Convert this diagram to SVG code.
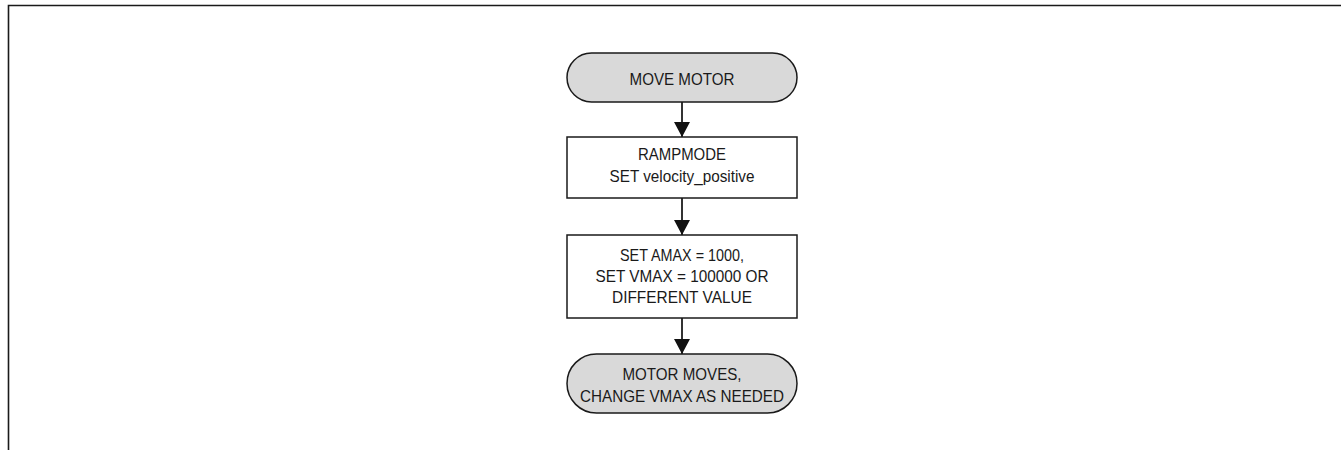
<svg xmlns="http://www.w3.org/2000/svg" width="1341" height="450" viewBox="0 0 1341 450">
<defs>
<style>
.term{fill:#d9d9d9;stroke:#1a1a1a;stroke-width:1.5}
.box{fill:#ffffff;stroke:#1a1a1a;stroke-width:1.5}
.lbl{font-family:"Liberation Sans",Arial,sans-serif;font-size:17px;fill:#1a1a1a;text-anchor:middle}
.conn{stroke:#333333;stroke-width:2;fill:none}
</style>
<marker id="arr" markerUnits="userSpaceOnUse" markerWidth="16" markerHeight="16" viewBox="0 0 16 16" refX="15" refY="8" orient="auto">
<path d="M0,0 L15,8 L0,16 Z" fill="#111111"/>
</marker>
</defs>
<rect width="1341" height="450" fill="#ffffff"/>
<path d="M8.5,450 V5.5 H1341" fill="none" stroke="#1a1a1a" stroke-width="1.6"/>
<g id="connectors">
<line class="conn" x1="682" y1="102" x2="682" y2="137" marker-end="url(#arr)"/>
<line class="conn" x1="682" y1="198" x2="682" y2="235" marker-end="url(#arr)"/>
<line class="conn" x1="682" y1="318" x2="682" y2="354" marker-end="url(#arr)"/>
</g>
<g id="start">
<rect class="term" x="567" y="53" width="230" height="49" rx="24.5"/>
<text class="lbl" x="682" y="85" textLength="105" lengthAdjust="spacingAndGlyphs">MOVE MOTOR</text>
</g>
<g id="rampmode">
<rect class="box" x="567" y="137" width="230" height="61"/>
<text class="lbl" x="682" y="160" textLength="88" lengthAdjust="spacingAndGlyphs">RAMPMODE</text>
<text class="lbl" x="682" y="182" textLength="145" lengthAdjust="spacingAndGlyphs">SET velocity_positive</text>
</g>
<g id="setparams">
<rect class="box" x="567" y="235" width="230" height="83"/>
<text class="lbl" x="682" y="261" textLength="124" lengthAdjust="spacingAndGlyphs">SET AMAX = 1000,</text>
<text class="lbl" x="682" y="282" textLength="173" lengthAdjust="spacingAndGlyphs">SET VMAX = 100000 OR</text>
<text class="lbl" x="682" y="303" textLength="140" lengthAdjust="spacingAndGlyphs">DIFFERENT VALUE</text>
</g>
<g id="end">
<rect class="term" x="567" y="354" width="230" height="59" rx="29.5"/>
<text class="lbl" x="682" y="380" textLength="119" lengthAdjust="spacingAndGlyphs">MOTOR MOVES,</text>
<text class="lbl" x="682" y="402" textLength="204" lengthAdjust="spacingAndGlyphs">CHANGE VMAX AS NEEDED</text>
</g>
</svg>
